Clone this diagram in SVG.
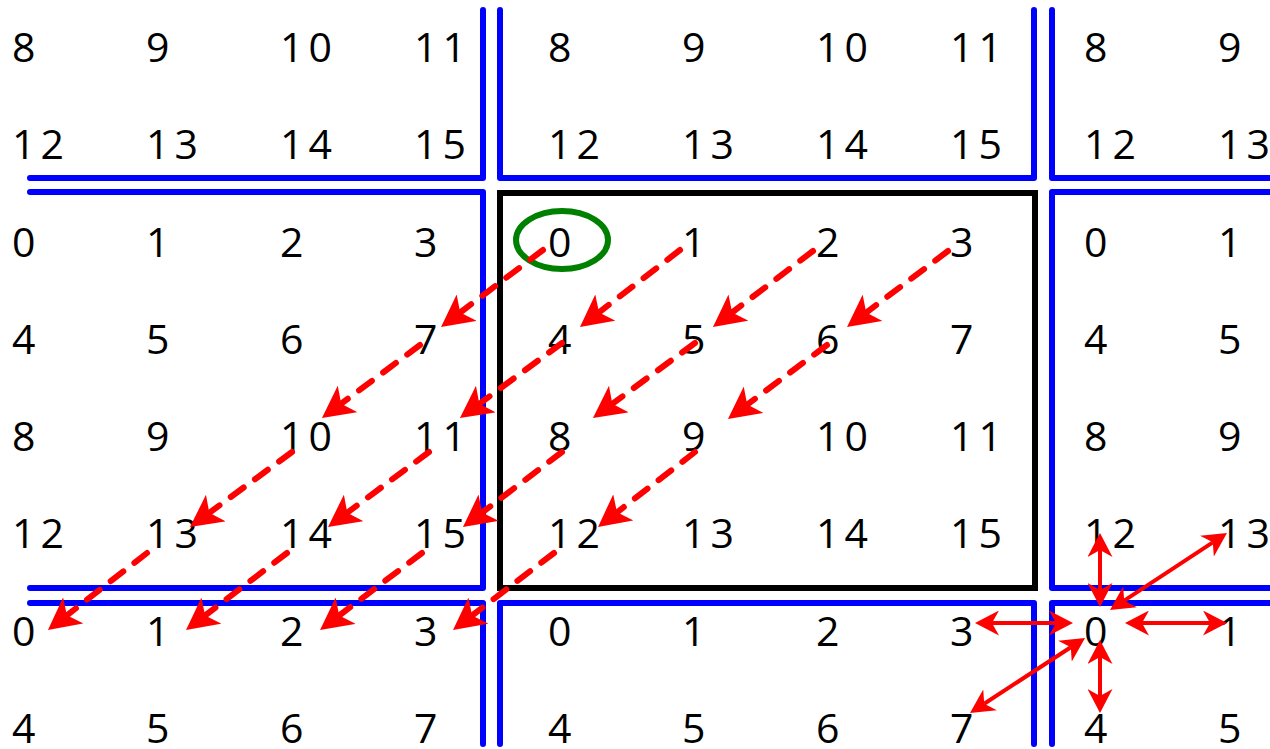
<svg xmlns="http://www.w3.org/2000/svg" width="1270" height="749" viewBox="0 0 1270 749">
<style>
.lbl{font-family:"Open Sans","Noto Sans","Liberation Sans",sans-serif;font-size:41px;letter-spacing:5px;fill:#000}
.blue{fill:none;stroke:#0000ff;stroke-width:6;stroke-linecap:round;stroke-linejoin:round}
.dash{fill:none;stroke:#ff0000;stroke-width:6;stroke-linecap:round;stroke-dasharray:16 14;marker-end:url(#hd)}
.solid{fill:none;stroke:#ff0000;stroke-width:4;marker-start:url(#hs);marker-end:url(#hs)}
</style>
<defs>
<marker id="hd" viewBox="0 0 32 33" markerWidth="32" markerHeight="33" refX="8" refY="16.5" orient="auto" markerUnits="userSpaceOnUse">
<path d="M0,0 L32,16.5 L0,33 L8,16.5 Z" fill="#ff0000"/>
</marker>
<marker id="hs" viewBox="0 0 24 25" markerWidth="24" markerHeight="25" refX="7" refY="12.5" orient="auto-start-reverse" markerUnits="userSpaceOnUse">
<path d="M0,0 L24,12.5 L0,25 L7,12.5 Z" fill="#ff0000"/>
</marker>
</defs>
<rect width="1270" height="749" fill="#fff"/>
<g id="focus-tile">
<rect x="500" y="193" width="535" height="395" fill="none" stroke="#000" stroke-width="6"/>
</g>
<g id="tile-borders">
<path class="blue" d="M30,178 H483 V10"/>
<path class="blue" d="M500,10 V178 H1034 V10"/>
<path class="blue" d="M1052,10 V178 H1280"/>
<path class="blue" d="M30,192 H483 V588 H30"/>
<path class="blue" d="M1280,192 H1052 V588 H1280"/>
<path class="blue" d="M30,603 H483 V744"/>
<path class="blue" d="M500,744 V603 H1034 V744"/>
<path class="blue" d="M1280,603 H1052 V744"/>
</g>
<g id="labels" class="lbl">
<g id="n-r0"><text x="12" y="62">8</text><text x="146" y="62">9</text><text x="280" y="62">10</text><text x="414" y="62">11</text><text x="548" y="62">8</text><text x="682" y="62">9</text><text x="816" y="62">10</text><text x="950" y="62">11</text><text x="1084" y="62">8</text><text x="1218" y="62">9</text></g>
<g id="n-r1"><text x="12" y="159">12</text><text x="146" y="159">13</text><text x="280" y="159">14</text><text x="414" y="159">15</text><text x="548" y="159">12</text><text x="682" y="159">13</text><text x="816" y="159">14</text><text x="950" y="159">15</text><text x="1084" y="159">12</text><text x="1218" y="159">13</text></g>
<g id="n-r2"><text x="12" y="257">0</text><text x="146" y="257">1</text><text x="280" y="257">2</text><text x="414" y="257">3</text><text x="548" y="257">0</text><text x="682" y="257">1</text><text x="816" y="257">2</text><text x="950" y="257">3</text><text x="1084" y="257">0</text><text x="1218" y="257">1</text></g>
<g id="n-r3"><text x="12" y="354">4</text><text x="146" y="354">5</text><text x="280" y="354">6</text><text x="414" y="354">7</text><text x="548" y="354">4</text><text x="682" y="354">5</text><text x="816" y="354">6</text><text x="950" y="354">7</text><text x="1084" y="354">4</text><text x="1218" y="354">5</text></g>
<g id="n-r4"><text x="12" y="451">8</text><text x="146" y="451">9</text><text x="280" y="451">10</text><text x="414" y="451">11</text><text x="548" y="451">8</text><text x="682" y="451">9</text><text x="816" y="451">10</text><text x="950" y="451">11</text><text x="1084" y="451">8</text><text x="1218" y="451">9</text></g>
<g id="n-r5"><text x="12" y="548">12</text><text x="146" y="548">13</text><text x="280" y="548">14</text><text x="414" y="548">15</text><text x="548" y="548">12</text><text x="682" y="548">13</text><text x="816" y="548">14</text><text x="950" y="548">15</text><text x="1084" y="548">12</text><text x="1218" y="548">13</text></g>
<g id="n-r6"><text x="12" y="646">0</text><text x="146" y="646">1</text><text x="280" y="646">2</text><text x="414" y="646">3</text><text x="548" y="646">0</text><text x="682" y="646">1</text><text x="816" y="646">2</text><text x="950" y="646">3</text><text x="1084" y="646">0</text><text x="1218" y="646">1</text></g>
<g id="n-r7"><text x="12" y="743">4</text><text x="146" y="743">5</text><text x="280" y="743">6</text><text x="414" y="743">7</text><text x="548" y="743">4</text><text x="682" y="743">5</text><text x="816" y="743">6</text><text x="950" y="743">7</text><text x="1084" y="743">4</text><text x="1218" y="743">5</text></g>
</g>
<g id="start-marker">
<ellipse cx="562" cy="240" rx="46" ry="29" fill="none" stroke="#008000" stroke-width="6"/>
</g>
<g id="connectors">
<path class="dash" d="M543,250 L460.2,312.5"/>
<path class="dash" d="M420,345 L341.2,403.7"/>
<path class="dash" d="M292,452 L209.3,512.8"/>
<path class="dash" d="M147,553 L66.9,615.3"/>
<path class="dash" d="M680,250 L599,312.4"/>
<path class="dash" d="M562,343 L479.3,403.8"/>
<path class="dash" d="M429,452 L347.3,512.7"/>
<path class="dash" d="M287,553 L205.1,615.5"/>
<path class="dash" d="M813,251 L732.1,312.5"/>
<path class="dash" d="M695,343 L612.3,403.8"/>
<path class="dash" d="M562,452 L482.1,512.5"/>
<path class="dash" d="M422,553 L339.2,615.5"/>
<path class="dash" d="M948,251 L866.2,312.6"/>
<path class="dash" d="M827,345 L747.2,404.6"/>
<path class="dash" d="M695,452 L617,512.3"/>
<path class="dash" d="M554,553 L472.1,615.5"/>
<path class="solid" d="M1100,550 L1100,590"/>
<path class="solid" d="M1212.8,542.3 L1124.2,600.7"/>
<path class="solid" d="M992,623 L1056,623"/>
<path class="solid" d="M1142,623 L1210,623"/>
<path class="solid" d="M1070.8,647.3 L984.2,703.7"/>
<path class="solid" d="M1100,657 L1100,696"/>
</g>
</svg>
